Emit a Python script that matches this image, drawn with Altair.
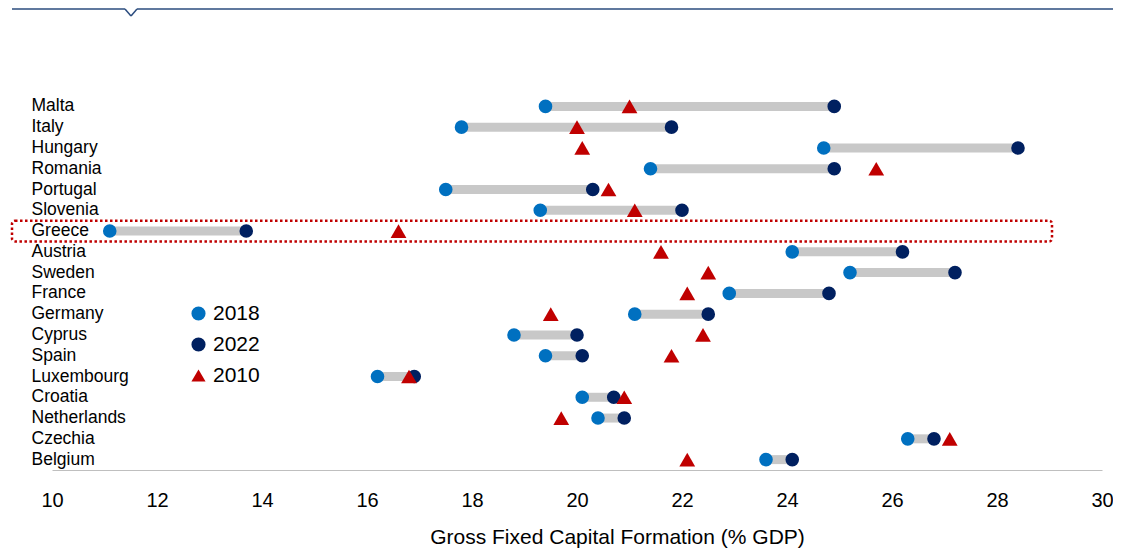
import altair as alt
import pandas as pd

countries = ["Malta", "Italy", "Hungary", "Romania", "Portugal", "Slovenia", "Greece",
             "Austria", "Sweden", "France", "Germany", "Cyprus", "Spain", "Luxembourg",
             "Croatia", "Netherlands", "Czechia", "Belgium"]
v2018 = [19.4, 17.8, 24.7, 21.4, 17.5, 19.3, 11.1, 24.1, 25.2, 22.9, 21.1, 18.8, 19.4, 16.2, 20.1, 20.4, 26.3, 23.6]
v2022 = [24.9, 21.8, 28.4, 24.9, 20.3, 22.0, 13.7, 26.2, 27.2, 24.8, 22.5, 20.0, 20.1, 16.9, 20.7, 20.9, 26.8, 24.1]
v2010 = [21.0, 20.0, 20.1, 25.7, 20.6, 21.1, 16.6, 21.6, 22.5, 22.1, 19.5, 22.4, 21.8, 16.8, 20.9, 19.7, 27.1, 22.1]
highlight = ["Greece"]
years = ["2018", "2022", "2010"]
year_colors = ["#0070C0", "#002060", "#C00000"]
year_shapes = ["circle", "circle", "triangle-up"]
x_ticks = [10, 12, 14, 16, 18, 20, 22, 24, 26, 28, 30]
x_title = "Gross Fixed Capital Formation (% GDP)"

FONT = "Liberation Sans"

bars_df = pd.DataFrame({"country": countries, "start": v2018, "end": v2022})
pts_df = pd.DataFrame({
    "country": countries * 3,
    "year": ["2018"] * len(countries) + ["2022"] * len(countries) + ["2010"] * len(countries),
    "value": v2018 + v2022 + v2010,
})
hl_df = pd.DataFrame({"country": highlight})

y_enc = alt.Y("country:N", sort=countries,
              scale=alt.Scale(domain=countries, paddingInner=0, paddingOuter=0),
              axis=alt.Axis(title=None, domain=False, ticks=False, tickSize=0,
                            labelAlign="left", labelPadding=21, labelFontSize=17.5,
                            labelColor="#000000", labelFont=FONT))

x_scale = alt.Scale(domain=[10, 30], nice=False, zero=False)

bars = alt.Chart(bars_df).mark_rule(color="#C8C8C8", strokeWidth=9, strokeCap="butt").encode(
    x=alt.X("start:Q", scale=x_scale,
            axis=alt.Axis(values=x_ticks, grid=False, ticks=False, tickSize=0,
                          domainColor="#BFBFBF", domainWidth=1.2,
                          labelFontSize=20, labelPadding=20, labelFlush=False,
                          labelColor="#000000", labelFont=FONT,
                          title=x_title, titleFontSize=21, titleFontWeight="normal",
                          titleColor="#000000", titleFont=FONT, titlePadding=16,
                          titleX=565, titleAlign="center")),
    x2="end:Q",
    y=y_enc,
)

legend_cfg = dict(title=None, orient="none", legendX=136, legendY=207,
                  padding=0, labelFontSize=21, labelFont=FONT,
                  labelColor="#000000", symbolSize=200,
                  rowPadding=9, labelOffset=4, symbolStrokeWidth=0,
                  symbolOpacity=1)

points = alt.Chart(pts_df).mark_point(filled=True, opacity=1, size=185).encode(
    x=alt.X("value:Q", scale=x_scale),
    y=alt.Y("country:N", sort=countries),
    color=alt.Color("year:N", scale=alt.Scale(domain=years, range=year_colors),
                    legend=alt.Legend(**legend_cfg)),
    shape=alt.Shape("year:N", scale=alt.Scale(domain=years, range=year_shapes),
                    legend=alt.Legend(**legend_cfg)),
    size=alt.condition("datum.year == '2010'", alt.value(250), alt.value(185)),
)

hl_box = alt.Chart(hl_df).mark_rect(fill=None, fillOpacity=0, stroke="#C00000", strokeWidth=2.5,
                                    strokeDash=[2.5, 2.5], cornerRadius=3).encode(
    y=alt.Y("country:N", sort=countries),
    x=alt.value(-40),
    x2=alt.value(1000),
)

LINE = "#2B4C7E"
top1 = alt.Chart(hl_df).mark_rule(color=LINE, strokeWidth=1.5).encode(
    x=alt.value(-40), x2=alt.value(73), y=alt.value(-87), y2=alt.value(-87))
top2 = alt.Chart(hl_df).mark_rule(color=LINE, strokeWidth=1.5).encode(
    x=alt.value(73), x2=alt.value(79), y=alt.value(-87), y2=alt.value(-80))
top3 = alt.Chart(hl_df).mark_rule(color=LINE, strokeWidth=1.5).encode(
    x=alt.value(79), x2=alt.value(85), y=alt.value(-80), y2=alt.value(-87))
top4 = alt.Chart(hl_df).mark_rule(color=LINE, strokeWidth=1.5).encode(
    x=alt.value(85), x2=alt.value(1075), y=alt.value(-87), y2=alt.value(-87))

chart = alt.layer(bars, hl_box, points, top1, top2, top3, top4).properties(
    width=1050, height=374,
    padding={"left": 44, "top": 88, "right": 11, "bottom": 80},
    autosize=alt.AutoSizeParams(type="none"),
).configure(font=FONT).configure_view(stroke=None, strokeWidth=0)

chart.save("out.html", embed_options={"renderer": "svg", "actions": False})
